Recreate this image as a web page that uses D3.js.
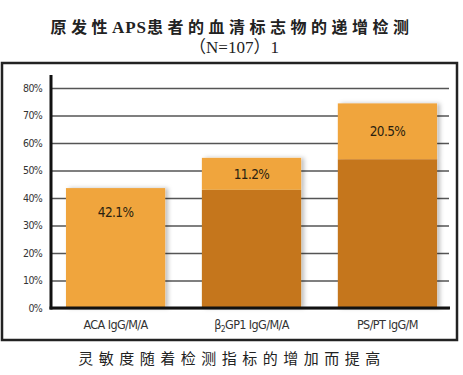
<!DOCTYPE html>
<html>
<head>
<meta charset="utf-8">
<script src="https://cdn.jsdelivr.net/npm/d3@7"></script>
<style>
  body { margin: 0; background: #fff; }
  svg { display: block; }
</style>
</head>
<body>
<svg width="463" height="375"></svg>
<script>
var categories = ["ACA IgG/M/A", "β2GP1 IgG/M/A", "PS/PT IgG/M"];
var baseValues = [0, 43, 54.1];        // dark part (previous tests)
var addedValues = [43.6, 11.6, 20.3];  // light part (added by this test)
var barLabels = ["42.1%", "11.2%", "20.5%"];
var yTicks = [0, 10, 20, 30, 40, 50, 60, 70, 80];

var svg = d3.select("svg");

var light = "#f0a53c",
    dark = "#c5761f";

// titles
var title = svg.append("text")
    .attr("x", 232)
    .attr("y", 33)
    .attr("text-anchor", "middle")
    .attr("font-family", "Noto Sans CJK SC")
    .attr("font-weight", "bold")
    .attr("font-size", "16px")
    .attr("fill", "#222");
title.append("tspan").attr("letter-spacing", "4.5px").text("原发性");
title.append("tspan").attr("font-family", "Liberation Serif").attr("font-size", "17px")
    .attr("letter-spacing", "1px").text("APS");
title.append("tspan").attr("letter-spacing", "4.5px").text("患者的血清标志物的递增检测");

svg.append("text")
    .attr("x", 234)
    .attr("y", 53)
    .attr("text-anchor", "middle")
    .attr("font-family", "Liberation Serif, Noto Sans CJK SC")
    .attr("font-size", "17px")
    .attr("fill", "#222")
    .text("（N=107）1");

// frame
svg.append("rect")
    .attr("x", 2)
    .attr("y", 63)
    .attr("width", 455)
    .attr("height", 277)
    .attr("fill", "none")
    .attr("stroke", "#222")
    .attr("stroke-width", 2.5);

var x = d3.scaleBand().domain(categories).range([51, 452]).paddingInner(0.27).paddingOuter(0.11),
    y = d3.scaleLinear().domain([0, 80]).range([308, 88]);

// shadow filter
var defs = svg.append("defs");
var f = defs.append("filter").attr("id", "shadow").attr("x", "-10%").attr("width", "130%");
f.append("feDropShadow")
    .attr("dx", 3).attr("dy", 0).attr("stdDeviation", 2)
    .attr("flood-color", "#000").attr("flood-opacity", 0.25);

// gridlines
var yAxis = svg.append("g")
    .attr("transform", "translate(51,0)")
    .call(d3.axisLeft(y).tickValues(yTicks).tickSize(-398).tickFormat(function(d) { return d + "%"; }));
yAxis.select(".domain").remove();
yAxis.selectAll(".tick line")
    .attr("stroke", "#555")
    .attr("stroke-width", 1.5);
yAxis.selectAll(".tick text")
    .attr("x", -9)
    .attr("font-family", "DejaVu Sans Condensed, Liberation Sans Narrow, sans-serif")
    .attr("font-size", "10.5px")
    .attr("letter-spacing", "-0.7px")
    .attr("fill", "#333");

// stacked bars
var rows = categories.map(function(c, i) {
    return { cat: c, base: baseValues[i], added: addedValues[i] };
});
var stack = d3.stack().keys(["base", "added"])(rows);
var colors = { base: dark, added: light };

var bars = svg.append("g").attr("filter", "url(#shadow)");
bars.selectAll("g.layer")
    .data(stack)
    .enter().append("g")
    .attr("class", "layer")
    .attr("fill", function(d) { return colors[d.key]; })
    .selectAll("rect")
    .data(function(d) { return d; })
    .enter().append("rect")
    .attr("x", function(d) { return x(d.data.cat); })
    .attr("y", function(d) { return y(d[1]); })
    .attr("width", x.bandwidth())
    .attr("height", function(d) { return y(d[0]) - y(d[1]); });

// bar labels in the light segment
svg.append("g").selectAll("text")
    .data(rows)
    .enter().append("text")
    .attr("x", function(d) { return x(d.cat) + x.bandwidth() / 2; })
    .attr("y", function(d, i) {
        var mid = i == 0 ? y(d.base + d.added) + 24 : (y(d.base) + y(d.base + d.added)) / 2;
        return mid + 5;
    })
    .attr("text-anchor", "middle")
    .attr("font-family", "DejaVu Sans Condensed, sans-serif")
    .attr("font-size", "13.5px")
    .attr("letter-spacing", "-0.6px")
    .attr("fill", "#2a1f10")
    .text(function(d, i) { return barLabels[i]; });

// axis lines
svg.append("line")
    .attr("x1", 51).attr("x2", 51)
    .attr("y1", 75).attr("y2", 309.5)
    .attr("stroke", "#111").attr("stroke-width", 3);
svg.append("line")
    .attr("x1", 49.5).attr("x2", 450)
    .attr("y1", y(0)).attr("y2", y(0))
    .attr("stroke", "#111").attr("stroke-width", 3);

// category labels
var catText = svg.append("g").selectAll("text")
    .data(categories)
    .enter().append("text")
    .attr("x", function(d) { return x(d) + x.bandwidth() / 2; })
    .attr("y", 329)
    .attr("text-anchor", "middle")
    .attr("font-family", "DejaVu Sans Condensed, sans-serif")
    .attr("font-size", "12.5px")
    .attr("letter-spacing", "-0.6px")
    .attr("fill", "#333");
catText.each(function(d) {
    var t = d3.select(this);
    if (d.indexOf("β2") == 0) {
        t.append("tspan").text("β");
        t.append("tspan").attr("font-size", "8.5px").attr("dy", 3).text("2");
        t.append("tspan").attr("dy", -3).text(d.slice(2));
    } else {
        t.text(d);
    }
});

// caption
svg.append("text")
    .attr("x", 232)
    .attr("y", 364)
    .attr("text-anchor", "middle")
    .attr("font-family", "Noto Sans CJK SC")
    .attr("font-size", "15px")
    .attr("letter-spacing", "5.5px")
    .attr("fill", "#222")
    .text("灵敏度随着检测指标的增加而提高");
</script>
</body>
</html>
